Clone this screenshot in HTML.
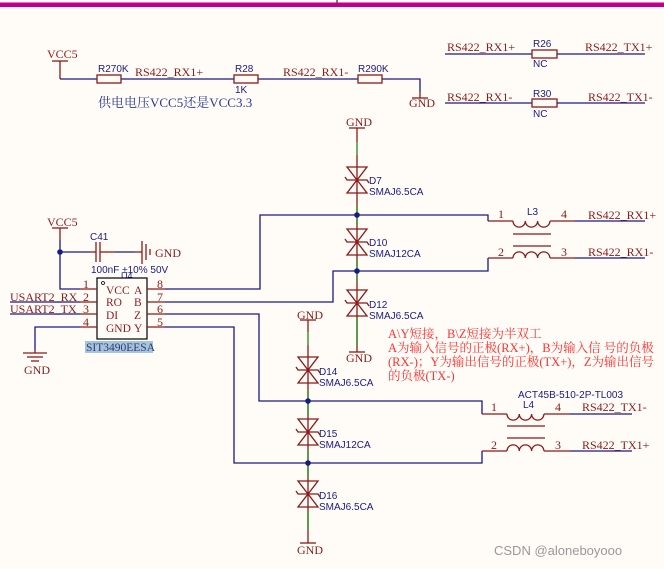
<!DOCTYPE html>
<html><head><meta charset="utf-8"><style>
html,body{margin:0;padding:0;background:#fffcf7;}
svg{display:block;}
.w{stroke:#1a1a80;stroke-width:1.3;fill:none;}
.r{stroke:#8b1a1a;stroke-width:1.3;fill:none;}
.g{stroke:#1a8a1a;stroke-width:1.3;}
.nl{font-family:"Liberation Serif",serif;font-size:12px;fill:#8b1a1a;}
.bl{font-family:"Liberation Sans",sans-serif;font-size:10px;fill:#1a1a80;}
.pn{font-family:"Liberation Serif",serif;font-size:12px;fill:#8b1a1a;}
.cn{font-family:"Liberation Serif","Noto Serif CJK SC",serif;font-size:12.5px;fill:#ff3333;}
.chip{font-family:"Liberation Serif",serif;font-size:11.5px;fill:#8b1a1a;}
</style></head><body>
<svg width="664" height="569" viewBox="0 0 664 569" xmlns="http://www.w3.org/2000/svg">
<defs>
<g id="tvs">
<path d="M-10,-13 L10,-13 L0,0 Z M-10,13 L10,13 L0,0 Z" fill="none" stroke="#8b1a1a" stroke-width="1.3"/>
<path d="M-12,-3 L-10,0 L10,0 L12,3" fill="none" stroke="#8b1a1a" stroke-width="1.3"/>
</g>
</defs>
<rect x="0" y="2.5" width="664" height="4.5" fill="#c0008c"/>
<line x1="337" y1="0" x2="337" y2="2.5" stroke="#000"/>

<text x="47" y="58" class="nl">VCC5</text>
<line x1="52" y1="61" x2="68" y2="61" class="r"/>
<line x1="60" y1="61" x2="60" y2="79" class="r"/>
<polyline points="60,79 97,79" class="w"/>
<line x1="121" y1="79" x2="234" y2="79" class="w"/>
<line x1="258" y1="79" x2="358" y2="79" class="w"/>
<polyline points="382,79 420,79 420,92" class="w"/>
<line x1="420" y1="92" x2="420" y2="98" class="r"/>
<line x1="412" y1="98" x2="428" y2="98" class="r"/>
<text x="409" y="107" class="nl">GND</text>
<rect x="97" y="75" width="24" height="8" class="r"/>
<rect x="234" y="75" width="24" height="8" class="r"/>
<rect x="358" y="75" width="24" height="8" class="r"/>
<text x="98" y="72" class="bl">R270K</text>
<text x="135" y="76" class="nl">RS422_RX1+</text>
<text x="235" y="72" class="bl">R28</text>
<text x="235" y="93" class="bl">1K</text>
<text x="283" y="76" class="nl">RS422_RX1-</text>
<text x="358" y="72" class="bl">R290K</text>
<text x="98" y="107" style="fill:#2a3a90;font-family:'Liberation Serif','Noto Serif CJK SC',serif;font-size:13px">供电电压VCC5还是VCC3.3</text>

<text x="447" y="51" class="nl">RS422_RX1+</text>
<line x1="445" y1="54" x2="532" y2="54" class="w"/>
<rect x="532" y="50" width="25" height="8" class="r"/>
<line x1="557" y1="54" x2="645" y2="54" class="w"/>
<text x="533" y="47" class="bl">R26</text>
<text x="533" y="67" class="bl">NC</text>
<text x="585" y="51" class="nl">RS422_TX1+</text>
<text x="447" y="101" class="nl">RS422_RX1-</text>
<line x1="445" y1="103" x2="532" y2="103" class="w"/>
<rect x="532" y="99" width="25" height="8" class="r"/>
<line x1="557" y1="103" x2="645" y2="103" class="w"/>
<text x="533" y="97" class="bl">R30</text>
<text x="533" y="117" class="bl">NC</text>
<text x="588" y="101" class="nl">RS422_TX1-</text>

<text x="346" y="126" class="nl">GND</text>
<line x1="349" y1="128" x2="365" y2="128" class="r"/>
<line x1="357" y1="128" x2="357" y2="142" class="r"/>
<line x1="357" y1="142" x2="357" y2="155" class="g"/>
<line x1="357" y1="155" x2="357" y2="352" class="r"/>
<line x1="357" y1="205" x2="357" y2="225" class="g"/>
<line x1="357" y1="260" x2="357" y2="282" class="g"/>
<line x1="357" y1="318" x2="357" y2="345" class="g"/>
<use href="#tvs" x="357" y="180"/>
<use href="#tvs" x="357" y="242"/>
<use href="#tvs" x="357" y="303"/>
<line x1="349" y1="352" x2="365" y2="352" class="r"/>
<text x="346" y="362" class="nl">GND</text>
<text x="369" y="184" class="bl">D7</text>
<text x="369" y="195" class="bl">SMAJ6.5CA</text>
<text x="369" y="246" class="bl">D10</text>
<text x="369" y="257" class="bl">SMAJ12CA</text>
<text x="369" y="308" class="bl">D12</text>
<text x="369" y="319" class="bl">SMAJ6.5CA</text>

<polyline points="165,289 260,289 260,215 488,215 488,221" class="w"/>
<polyline points="165,302 333,302 333,271 488,271 488,258" class="w"/>
<circle cx="357" cy="215" r="2.8" fill="#1a1a80"/>
<circle cx="357" cy="271" r="2.8" fill="#1a1a80"/>
<line x1="488" y1="221" x2="513" y2="221" class="r"/>
<line x1="488" y1="258" x2="513" y2="258" class="r"/>
<path d="M513,221 a6,6 0 0 0 12.3,0 a6,6 0 0 0 12.3,0 a6,6 0 0 0 12.3,0" class="r"/>
<path d="M513,258 a6,6 0 0 1 12.3,0 a6,6 0 0 1 12.3,0 a6,6 0 0 1 12.3,0" class="r"/>
<line x1="513" y1="234" x2="551" y2="234" class="r"/>
<line x1="513" y1="246" x2="551" y2="246" class="r"/>
<line x1="550" y1="221" x2="575" y2="221" class="r"/>
<line x1="550" y1="258" x2="575" y2="258" class="r"/>
<line x1="575" y1="221" x2="645" y2="221" class="w"/>
<line x1="575" y1="258" x2="645" y2="258" class="w"/>
<text x="498" y="218" class="pn">1</text>
<text x="498" y="256" class="pn">2</text>
<text x="561" y="218" class="pn">4</text>
<text x="561" y="256" class="pn">3</text>
<text x="527" y="215" class="bl">L3</text>
<text x="588" y="219" class="nl">RS422_RX1+</text>
<text x="588" y="256" class="nl">RS422_RX1-</text>

<text x="47" y="226" class="nl">VCC5</text>
<line x1="52" y1="228" x2="68" y2="228" class="r"/>
<line x1="60" y1="228" x2="60" y2="240" class="r"/>
<polyline points="60,240 60,289 80,289" class="w"/>
<circle cx="60" cy="252" r="2.8" fill="#1a1a80"/>
<line x1="60" y1="252" x2="90" y2="252" class="w"/>
<line x1="90" y1="252" x2="96" y2="252" class="r"/>
<line x1="96" y1="242" x2="96" y2="262" class="r"/>
<line x1="100" y1="242" x2="100" y2="262" class="r"/>
<line x1="100" y1="252" x2="115" y2="252" class="r"/>
<line x1="115" y1="252" x2="135" y2="252" class="w"/>
<line x1="135" y1="252" x2="142" y2="252" class="r"/>
<line x1="142" y1="241" x2="142" y2="264" class="r"/>
<line x1="146" y1="244" x2="146" y2="260" class="r"/>
<line x1="150" y1="249" x2="150" y2="255" class="r"/>
<text x="155" y="257" class="nl">GND</text>
<text x="90" y="240" class="bl">C41</text>
<text x="91" y="273" class="bl">100nF ±10% 50V</text>
<text x="121" y="279" class="bl" style="font-size:9px">U4</text>
<rect x="97" y="278" width="50" height="61" fill="#fffcf7" stroke="#000" stroke-width="1.2"/>
<circle cx="103" cy="283" r="1.5" fill="none" stroke="#000" stroke-width="0.8"/>
<g class="r">
<line x1="80" y1="289" x2="97" y2="289"/><line x1="80" y1="302" x2="97" y2="302"/>
<line x1="80" y1="314" x2="97" y2="314"/><line x1="80" y1="327" x2="97" y2="327"/>
<line x1="147" y1="289" x2="165" y2="289"/><line x1="147" y1="302" x2="165" y2="302"/>
<line x1="147" y1="314" x2="165" y2="314"/><line x1="147" y1="327" x2="165" y2="327"/>
</g>
<g class="chip">
<text x="106" y="294">VCC</text><text x="106" y="306">RO</text><text x="106" y="319">DI</text><text x="106" y="332">GND</text>
<text x="134" y="294">A</text><text x="134" y="306">B</text><text x="134" y="319">Z</text><text x="134" y="332">Y</text>
</g>
<g class="pn">
<text x="83" y="288">1</text><text x="83" y="301">2</text><text x="83" y="313">3</text><text x="83" y="326">4</text>
<text x="157" y="288">8</text><text x="157" y="301">7</text><text x="157" y="313">6</text><text x="157" y="326">5</text>
</g>
<text x="10" y="301" class="nl">USART2_RX</text>
<line x1="10" y1="302" x2="80" y2="302" class="w"/>
<text x="10" y="313" class="nl">USART2_TX</text>
<line x1="10" y1="314" x2="80" y2="314" class="w"/>
<rect x="85" y="341" width="68" height="12" fill="#a8c4d8"/>
<text x="86" y="351" class="chip" style="fill:#2a3a80">SIT3490EESA</text>
<polyline points="80,327 35,327 35,350" class="w"/>
<line x1="35" y1="350" x2="35" y2="353" class="r"/>
<line x1="23" y1="353" x2="47" y2="353" class="r"/>
<line x1="27" y1="357" x2="43" y2="357" class="r"/>
<line x1="31" y1="361" x2="39" y2="361" class="r"/>
<text x="24" y="374" class="nl">GND</text>

<text x="297" y="319" class="nl">GND</text>
<line x1="300" y1="320" x2="316" y2="320" class="r"/>
<line x1="308" y1="320" x2="308" y2="332" class="r"/>
<line x1="308" y1="332" x2="308" y2="345" class="g"/>
<line x1="308" y1="345" x2="308" y2="543" class="r"/>
<line x1="308" y1="390" x2="308" y2="416" class="g"/>
<line x1="308" y1="450" x2="308" y2="478" class="g"/>
<line x1="308" y1="512" x2="308" y2="530" class="g"/>
<use href="#tvs" x="308" y="370"/>
<use href="#tvs" x="308" y="432"/>
<use href="#tvs" x="308" y="494"/>
<line x1="300" y1="543" x2="316" y2="543" class="r"/>
<text x="297" y="554" class="nl">GND</text>
<text x="319" y="375" class="bl">D14</text>
<text x="319" y="386" class="bl">SMAJ6.5CA</text>
<text x="319" y="437" class="bl">D15</text>
<text x="319" y="448" class="bl">SMAJ12CA</text>
<text x="319" y="499" class="bl">D16</text>
<text x="319" y="510" class="bl">SMAJ6.5CA</text>

<polyline points="165,314 259,314 259,401 482,401 482,414" class="w"/>
<polyline points="165,327 234,327 234,463 482,463 482,451" class="w"/>
<circle cx="308" cy="401" r="2.8" fill="#1a1a80"/>
<circle cx="308" cy="463" r="2.8" fill="#1a1a80"/>
<line x1="482" y1="414" x2="507" y2="414" class="r"/>
<line x1="482" y1="451" x2="507" y2="451" class="r"/>
<path d="M507,414 a6,6 0 0 0 12.3,0 a6,6 0 0 0 12.3,0 a6,6 0 0 0 12.3,0" class="r"/>
<path d="M507,451 a6,6 0 0 1 12.3,0 a6,6 0 0 1 12.3,0 a6,6 0 0 1 12.3,0" class="r"/>
<line x1="507" y1="426" x2="545" y2="426" class="r"/>
<line x1="507" y1="438" x2="545" y2="438" class="r"/>
<line x1="544" y1="414" x2="570" y2="414" class="r"/>
<line x1="544" y1="451" x2="570" y2="451" class="r"/>
<line x1="570" y1="414" x2="632" y2="414" class="w"/>
<line x1="570" y1="451" x2="632" y2="451" class="w"/>
<text x="491" y="411" class="pn">1</text>
<text x="491" y="449" class="pn">2</text>
<text x="555" y="411" class="pn">4</text>
<text x="555" y="449" class="pn">3</text>
<text x="518" y="398" class="bl">ACT45B-510-2P-TL003</text>
<text x="523" y="408" class="bl">L4</text>
<text x="582" y="411" class="nl">RS422_TX1-</text>
<text x="582" y="449" class="nl">RS422_TX1+</text>

<text x="388" y="338" class="cn">A\Y短接，B\Z短接为半双工</text>
<text x="388" y="352" class="cn">A为输入信号的正极(RX+)，B为输入信 号的负极</text>
<text x="388" y="366" class="cn">(RX-)；Y为输出信号的正极(TX+)，Z为输出信号</text>
<text x="388" y="380" class="cn">的负极(TX-)</text>

<text x="494" y="555" font-family="Liberation Sans,sans-serif" font-size="13" fill="#999">CSDN @aloneboyooo</text>
</svg>
</body></html>
